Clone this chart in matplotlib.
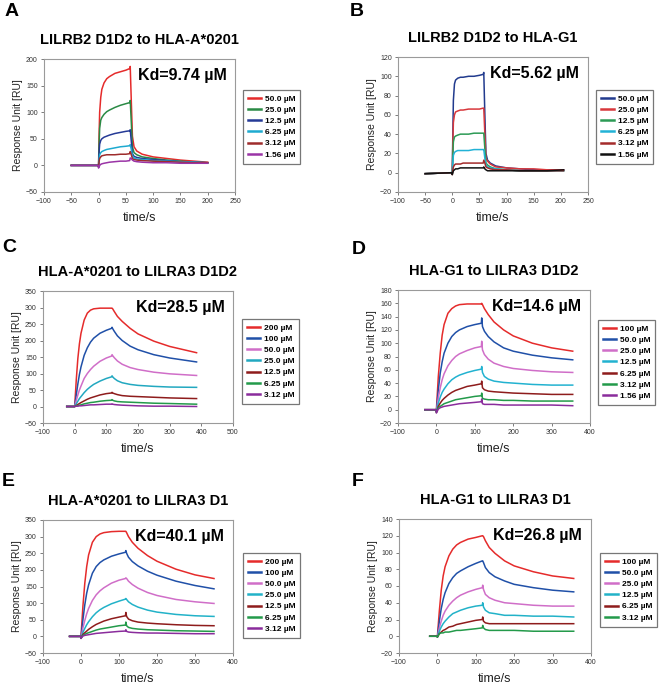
import matplotlib
matplotlib.use("Agg")
import matplotlib.pyplot as plt

plt.rcParams['font.family'] = ['Liberation Sans', 'DejaVu Sans']

W, H = 662, 686

# ---- panel A: LILRB2 D1D2 to HLA-A*0201 ----
tA = [-50, -1, 0, 1, 2, 4, 6, 10, 15, 20, 30, 40, 50, 57, 58, 60, 62, 65, 70, 80, 100, 125, 150, 175, 200]
A_50 = [0, 0, 0, 60, 100, 128, 143, 155, 163, 167, 173, 176, 179, 182, 186, 120, 55, 35, 27, 21, 16, 13, 10, 8, 6]
A_25 = [0, 0, -1, 40, 70, 85, 90, 96, 101, 104, 109, 113, 116, 118, 122, 80, 35, 24, 20, 16, 13, 10, 8, 6, 5]
A_12 = [0, 0, -2, 25, 40, 47, 50, 53, 55, 57, 60, 62, 64, 65, 67, 45, 22, 17, 15, 13, 11, 9, 7, 6, 5]
A_6 = [0, 0, -3, 12, 20, 24, 26, 28, 30, 31, 33, 35, 36, 37, 39, 30, 18, 14, 12, 11, 9, 8, 7, 6, 5]
A_3 = [0, 0, -3, 8, 13, 16, 18, 19, 20, 20, 20, 21, 21, 22, 26, 20, 13, 11, 10, 9, 8, 7, 6, 5, 5]
A_1 = [0, 0, -5, -3, 0, 2, 3, 4, 5, 6, 7, 8, 8, 9, 14, 13, 10, 8, 7, 6, 5, 5, 4, 4, 4]
A_labels = ['50.0 µM', '25.0 µM', '12.5 µM', '6.25 µM', '3.12 µM', '1.56 µM']
A_colors = ['#e52b2b', '#2a8a45', '#253a96', '#1eaad0', '#9e2c2c', '#9a34a6']

# ---- panel B: LILRB2 D1D2 to HLA-G1 ----
tB = [-50, -1, 0, 1, 2, 4, 6, 10, 15, 20, 30, 40, 50, 57, 58, 60, 62, 65, 70, 80, 100, 125, 150, 175, 205]
B_50 = [-1, 0, 0, 40, 75, 92, 96, 98, 99, 99, 100, 100, 101, 102, 104, 60, 20, 13, 10, 7, 5, 4, 3, 3, 3]
B_25 = [-1, 0, 0, 30, 52, 60, 63, 64, 65, 65, 66, 66, 66, 67, 67, 40, 15, 12, 9, 6, 5, 4, 4, 3, 3]
B_12 = [-1, 0, -1, 18, 32, 37, 38, 39, 40, 40, 40, 41, 41, 41, 41, 25, 10, 8, 6, 4, 3, 2, 2, 2, 2]
B_6 = [-1, 0, -1, 10, 18, 21, 22, 23, 23, 23, 23, 24, 24, 24, 24, 15, 8, 6, 5, 4, 3, 2, 2, 2, 2]
B_3 = [-1, 0, -2, 3, 6, 8, 9, 9, 9, 10, 10, 10, 10, 10, 13, 10, 6, 5, 4, 3, 3, 2, 2, 2, 2]
B_1 = [-1, 0, -2, 0, 2, 3, 4, 4, 5, 5, 5, 5, 5, 5, 6, 4, 3, 2, 2, 2, 2, 2, 2, 2, 3]
B_labels = ['50.0 µM', '25.0 µM', '12.5 µM', '6.25 µM', '3.12 µM', '1.56 µM']
B_colors = ['#223b8e', '#d8383c', '#2c9a55', '#22b2d6', '#a42b2b', '#111111']

# ---- panel C: HLA-A*0201 to LILRA3 D1D2 ----
tC = [-25, -1, 0, 5, 10, 15, 20, 30, 40, 50, 60, 80, 100, 117, 118, 120, 125, 135, 150, 175, 200, 250, 300, 385]
C_200 = [0, 0, 0, 80, 145, 190, 222, 262, 283, 292, 296, 298, 298, 298, 298, 296, 288, 273, 258, 237, 220, 198, 182, 163]
C_100 = [0, 0, 0, 35, 68, 97, 120, 155, 178, 195, 207, 222, 231, 237, 240, 236, 228, 214, 200, 183, 172, 157, 147, 135]
C_50 = [0, 0, 0, 18, 35, 50, 62, 85, 100, 112, 122, 137, 147, 153, 157, 154, 148, 138, 128, 118, 112, 104, 99, 94]
C_25 = [0, 0, 0, 8, 16, 24, 30, 42, 52, 60, 67, 77, 85, 90, 93, 90, 85, 78, 72, 67, 64, 61, 59, 58]
C_12 = [0, 0, 0, 3, 6, 9, 12, 17, 22, 26, 29, 35, 39, 41, 43, 41, 39, 36, 33, 31, 30, 28, 26, 24]
C_6 = [0, 0, 0, 1, 3, 4, 5, 8, 10, 12, 13, 16, 18, 19, 21, 19, 17, 15, 14, 13, 12, 10, 9, 7]
C_3 = [0, 0, 0, 1, 1, 2, 2, 3, 4, 5, 5, 6, 7, 7, 8, 7, 6, 5, 4, 3, 2, 1, 1, 0]
C_labels = ['200 µM', '100 µM', '50.0 µM', '25.0 µM', '12.5 µM', '6.25 µM', '3.12 µM']
C_colors = ['#e52b2b', '#2050a8', '#d06ec8', '#22a8c0', '#8e1c1c', '#239a4a', '#8a2c9c']

# ---- panel D: HLA-G1 to LILRA3 D1D2 ----
tD = [-30, -1, 0, 5, 10, 15, 20, 30, 40, 50, 60, 80, 100, 117, 118, 120, 125, 135, 150, 175, 200, 250, 300, 355]
D_100 = [0, 0, 0, 50, 85, 112, 128, 145, 152, 156, 158, 159, 159, 159, 160, 158, 152, 143, 132, 120, 111, 100, 93, 88]
D_50 = [0, 0, -2, 30, 55, 72, 85, 100, 110, 116, 120, 125, 128, 130, 138, 125, 118, 110, 102, 93, 88, 82, 78, 75]
D_25 = [0, 0, -3, 18, 33, 45, 54, 66, 74, 80, 84, 89, 93, 95, 103, 90, 83, 76, 70, 65, 62, 59, 57, 56]
D_12 = [0, 0, -3, 10, 19, 26, 31, 39, 45, 49, 52, 56, 59, 61, 65, 56, 50, 46, 43, 41, 40, 38, 37, 37]
D_6 = [0, 0, -4, 5, 10, 14, 17, 22, 26, 29, 31, 35, 37, 39, 43, 33, 30, 28, 27, 26, 25, 24, 23, 23]
D_3 = [0, 0, -4, 3, 5, 7, 9, 11, 13, 15, 16, 18, 20, 21, 25, 17, 16, 15, 15, 14, 14, 13, 13, 13]
D_1 = [0, 0, -5, 1, 3, 4, 5, 6, 7, 8, 9, 10, 11, 12, 16, 9, 8, 8, 8, 7, 7, 7, 7, 6]
D_labels = ['100 µM', '50.0 µM', '25.0 µM', '12.5 µM', '6.25 µM', '3.12 µM', '1.56 µM']
D_colors = ['#e52b2b', '#2050a8', '#d06ec8', '#22b2d0', '#8e1c1c', '#239a4a', '#8a2c9c']

# ---- panel E: HLA-A*0201 to LILRA3 D1 ----
tE = [-30, -1, 0, 5, 10, 15, 20, 30, 40, 50, 60, 80, 100, 117, 118, 120, 125, 135, 150, 175, 200, 250, 300, 350]
E_200 = [0, 0, 0, 90, 160, 210, 245, 283, 300, 308, 312, 315, 316, 316, 316, 312, 300, 283, 265, 243, 226, 202, 185, 174]
E_100 = [0, 0, -2, 50, 95, 130, 155, 190, 210, 222, 230, 241, 248, 253, 258, 250, 238, 225, 212, 196, 184, 166, 153, 143]
E_50 = [0, 0, -4, 25, 48, 68, 84, 108, 125, 137, 146, 160, 169, 174, 176, 174, 166, 156, 145, 132, 123, 111, 104, 99]
E_25 = [0, 0, -5, 12, 24, 35, 44, 59, 71, 80, 87, 98, 106, 112, 114, 111, 104, 96, 88, 79, 73, 66, 62, 60]
E_12 = [0, 0, -6, 6, 11, 16, 21, 29, 36, 41, 46, 53, 58, 62, 72, 60, 52, 47, 43, 40, 38, 35, 33, 32]
E_6 = [0, 0, -6, 3, 6, 9, 11, 15, 19, 22, 24, 28, 32, 34, 43, 32, 27, 24, 22, 20, 19, 17, 16, 15]
E_3 = [0, 0, -6, 1, 3, 4, 5, 7, 9, 10, 11, 13, 15, 16, 20, 15, 13, 12, 11, 10, 10, 9, 8, 8]
E_labels = ['200 µM', '100 µM', '50.0 µM', '25.0 µM', '12.5 µM', '6.25 µM', '3.12 µM']
E_colors = ['#e52b2b', '#2050a8', '#d06ec8', '#22b2c8', '#8e1c1c', '#239a4a', '#8a2c9c']

# ---- panel F: HLA-G1 to LILRA3 D1 ----
tF = [-20, -1, 0, 5, 10, 15, 20, 30, 40, 50, 60, 80, 100, 117, 118, 120, 125, 135, 150, 175, 200, 250, 300, 355]
F_100 = [0, 0, 0, 30, 55, 72, 83, 96, 104, 109, 112, 116, 118, 120, 120, 119, 114, 106, 99, 90, 84, 77, 72, 69]
F_50 = [0, 0, -1, 18, 33, 44, 52, 63, 70, 75, 78, 83, 87, 90, 90, 88, 82, 76, 71, 66, 62, 58, 55, 53]
F_25 = [0, 0, -1, 10, 18, 25, 30, 37, 42, 46, 49, 53, 56, 58, 61, 56, 50, 46, 43, 40, 39, 37, 36, 36]
F_12 = [0, 0, -1, 6, 11, 15, 18, 23, 27, 29, 31, 34, 36, 37, 40, 35, 31, 28, 27, 25, 25, 24, 24, 23]
F_6 = [0, 0, -1, 3, 5, 7, 8, 11, 12, 14, 15, 17, 19, 20, 23, 18, 16, 15, 15, 15, 15, 15, 15, 15]
F_3 = [0, 0, -1, 3, 4, 4, 5, 5, 6, 7, 7, 8, 9, 10, 13, 10, 8, 7, 7, 7, 7, 6, 6, 6]
F_labels = ['100 µM', '50.0 µM', '25.0 µM', '12.5 µM', '6.25 µM', '3.12 µM']
F_colors = ['#e52b2b', '#2050a8', '#d06ec8', '#22b2c8', '#8e1c1c', '#239a4a']


def axes_px(fig, x0, y0, x1, y1):
    # pixel box (top-left origin) -> figure axes
    return fig.add_axes([x0 / W, 1 - y1 / H, (x1 - x0) / W, (y1 - y0) / H])


def plot_panel(fig, box, leg_xy, letter_xy, letter, t, series, labels, colors,
               title, kd, xlim, xticks, ylim, yticks):
    ax = axes_px(fig, *box)
    for ys, lab, c in zip(series, labels, colors):
        ax.plot(t, ys, color=c, linewidth=1.1, label=lab)
    ax.set_xlim(*xlim)
    ax.set_ylim(*ylim)
    ax.set_xticks(xticks)
    ax.set_yticks(yticks)
    ax.tick_params(labelsize=5, colors='#666666', labelcolor='#333333', length=2.5, width=0.6, pad=2)
    for s in ax.spines.values():
        s.set_color('#9a9a9a')
        s.set_linewidth(0.8)
    ax.set_ylabel('Response Unit [RU]', fontsize=7.5, color='#222222', labelpad=2)
    ax.set_xlabel('time/s', fontsize=9, color='#222222', labelpad=5)
    ax.set_title(title, fontsize=10.5, fontweight='bold', pad=11)
    ax.text(0.955, 0.93, kd, transform=ax.transAxes, ha='right', va='top',
            fontsize=11.5, fontweight='bold')
    leg = ax.legend(loc='upper left', bbox_to_anchor=(leg_xy[0] / W, 1 - leg_xy[1] / H),
                    bbox_transform=fig.transFigure, borderaxespad=0, fancybox=False,
                    prop={'size': 6, 'weight': 'bold'}, handlelength=1.5,
                    handletextpad=0.5, labelspacing=0.4, borderpad=0.6)
    leg.get_frame().set_edgecolor('#555555')
    leg.get_frame().set_linewidth(0.9)
    for ln in leg.get_lines():
        ln.set_linewidth(1.8)
    fig.text(letter_xy[0] / W, 1 - letter_xy[1] / H, letter, fontsize=14,
             fontweight='bold', ha='left', va='center')
    return ax


fig = plt.figure(figsize=(W / 100, H / 100), dpi=100)

plot_panel(fig, (44, 59, 235, 192), (243, 90), (5, 12), 'A', tA,
           [A_50, A_25, A_12, A_6, A_3, A_1], A_labels, A_colors,
           'LILRB2 D1D2 to HLA-A*0201', 'Kd=9.74 µM',
           (-100, 250), range(-100, 251, 50), (-50, 200), range(-50, 201, 50))

plot_panel(fig, (398, 57, 588, 192), (596, 90), (350, 12), 'B', tB,
           [B_50, B_25, B_12, B_6, B_3, B_1], B_labels, B_colors,
           'LILRB2 D1D2 to HLA-G1', 'Kd=5.62 µM',
           (-100, 250), range(-100, 251, 50), (-20, 120), range(-20, 121, 20))

plot_panel(fig, (43, 291, 233, 423), (242, 319), (2, 248), 'C', tC,
           [C_200, C_100, C_50, C_25, C_12, C_6, C_3], C_labels, C_colors,
           'HLA-A*0201 to LILRA3 D1D2', 'Kd=28.5 µM',
           (-100, 500), range(-100, 501, 100), (-50, 350), range(-50, 351, 50))

plot_panel(fig, (398, 290, 590, 423), (598, 320), (352, 249), 'D', tD,
           [D_100, D_50, D_25, D_12, D_6, D_3, D_1], D_labels, D_colors,
           'HLA-G1 to LILRA3 D1D2', 'Kd=14.6 µM',
           (-100, 400), range(-100, 401, 100), (-20, 180), range(-20, 181, 20))

plot_panel(fig, (43, 520, 233, 653), (243, 553), (2, 481), 'E', tE,
           [E_200, E_100, E_50, E_25, E_12, E_6, E_3], E_labels, E_colors,
           'HLA-A*0201 to LILRA3 D1', 'Kd=40.1 µM',
           (-100, 400), range(-100, 401, 100), (-50, 350), range(-50, 351, 50))

plot_panel(fig, (399, 519, 591, 653), (600, 553), (352, 481), 'F', tF,
           [F_100, F_50, F_25, F_12, F_6, F_3], F_labels, F_colors,
           'HLA-G1 to LILRA3 D1', 'Kd=26.8 µM',
           (-100, 400), range(-100, 401, 100), (-20, 140), range(-20, 141, 20))

fig.savefig('out.png', dpi=100)
